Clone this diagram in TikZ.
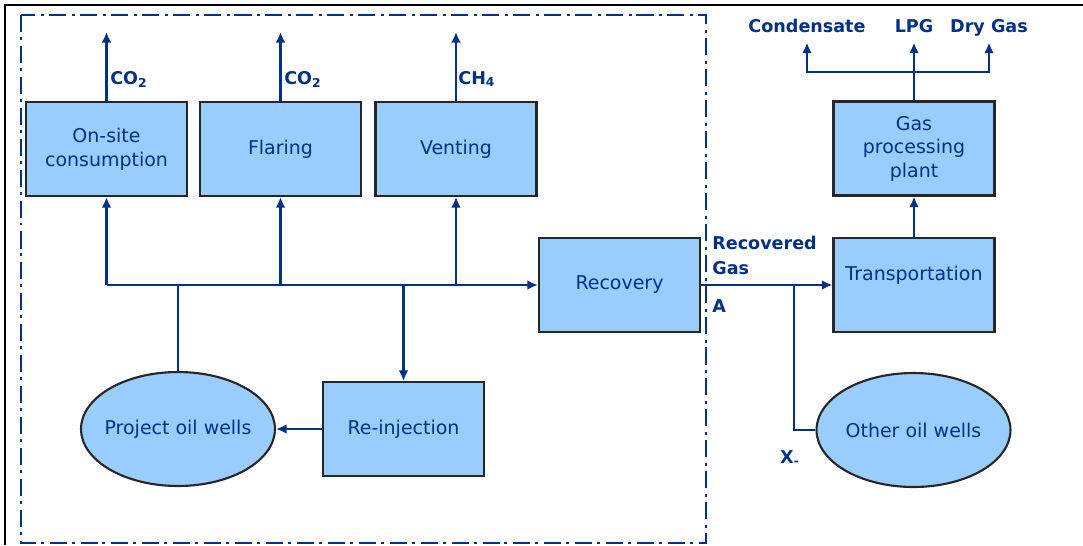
\documentclass[tikz,border=0pt]{standalone}
\usepackage{fontspec}
\setmainfont{DejaVu Sans}
\usepackage{tikz}
\usetikzlibrary{arrows.meta,shapes.geometric}
\definecolor{navy}{HTML}{003087}
\definecolor{boxblue}{HTML}{99CCFF}

\begin{document}
\begin{tikzpicture}[x=0.02cm, y=-0.02cm,
    box/.style={draw=black!85, line width=1.2pt, fill=boxblue, text=navy,
      minimum width=3.22cm, minimum height=1.88cm, inner sep=0pt,
      align=center, font=\fontsize{10.8}{13.4}\selectfont},
    well/.style={ellipse, draw=black!85, line width=1.2pt, fill=boxblue,
      text=navy, minimum width=3.88cm, minimum height=2.28cm, inner sep=0pt,
      font=\fontsize{10.8}{13.4}\selectfont},
    pipe/.style={draw=navy, line width=1.5pt},
    flow/.style={pipe, -{Latex[length=6pt,width=5.5pt]}},
    lbl/.style={text=navy, inner sep=0pt,
      font=\fontsize{10}{14}\selectfont\bfseries},
    prod/.style={lbl, text depth=0pt, outer ysep=6pt},
    border/.style={draw=navy, line width=1.4pt,
      dash pattern=on 9.7pt off 2.8pt on 1.7pt off 3.4pt}]

        \useasboundingbox (0,0) rectangle (1083,545);

        % frames
        \draw [black, line width=1.2pt] (1083,5) -- (5,5) -- (5,545);
        \draw [border] (21,15) rectangle (706,543);

        % boxes
        \node [box] (onsite) at (106.5,149) {On-site\\consumption};
        \node [box] (flaring) at (280.5,149) {Flaring};
        \node [box] (venting) at (456,149) {Venting};
        \node [box] (recovery) at (619.5,285) {Recovery};
        \node [box] (reinj) at (403.5,429) {Re-injection};
        \node [box] (transport) at (914,285) {Transportation\\\mbox{}};
        \node [box] (gpp) at (914,148.5) {Gas\\processing\\plant};

        % wells
        \node [well] (projwells) at (178,429) {\makebox[2cm]{Project oil wells}};
        \node [well] (otherwells) at (913.5,430) {\makebox[2cm]{Other oil wells}};

        % gas bus
        \coordinate (bus) at (106.5,285);
        \draw [flow] (bus) -- (recovery.west);
        \draw [flow] (bus) -- (onsite.south);
        \draw [flow] (flaring.south |- bus) -- (flaring.south);
        \draw [flow] (venting.south |- bus) -- (venting.south);
        \draw [pipe] (projwells.north) -- (projwells.north |- bus);
        \draw [flow] (reinj.north |- bus) -- (reinj.north);
        \draw [flow] (reinj.west) -- (projwells.east);

        % emissions
        \node [lbl, anchor=base west] (co2a) at (110,84) {CO\textsubscript{2}};
        \node [lbl, anchor=base west] (co2b) at (284,84) {CO\textsubscript{2}};
        \node [lbl, anchor=base west] (ch4) at (458,84) {CH\textsubscript{4}};
        \draw [flow] (onsite.north) -- ++(0,-69);
        \draw [flow] (flaring.north) -- ++(0,-69);
        \draw [flow] (venting.north) -- ++(0,-69);

        % recovered gas
        \node [lbl, anchor=north west, align=left] (recgas) at (712,236)
          {Recovered\\Gas};
        \node [lbl, anchor=west] (pointa) at (712,306) {A};
        \node [lbl] (pointx) at (790,458) {X\textsubscript{-}};
        \coordinate (xjoin) at (794,285);
        \draw [flow] (recovery.east) -- (transport.west);
        \draw [pipe] (otherwells.west) -| (xjoin);
        \draw [flow] (transport.north) -- (gpp.south);

        % products
        \node [prod, anchor=base] (cond) at (807,32) {Condensate};
        \node [prod, anchor=base] (lpg) at (914,32) {LPG};
        \node [prod, anchor=base] (drygas) at (989,32) {Dry Gas};
        \coordinate (split) at (914,72);
        \draw [flow] (gpp.north) -- (lpg.south);
        \draw [flow] (split) -| (cond.south);
        \draw [flow] (split) -| (drygas.south);

      \end{tikzpicture}
\end{document}
